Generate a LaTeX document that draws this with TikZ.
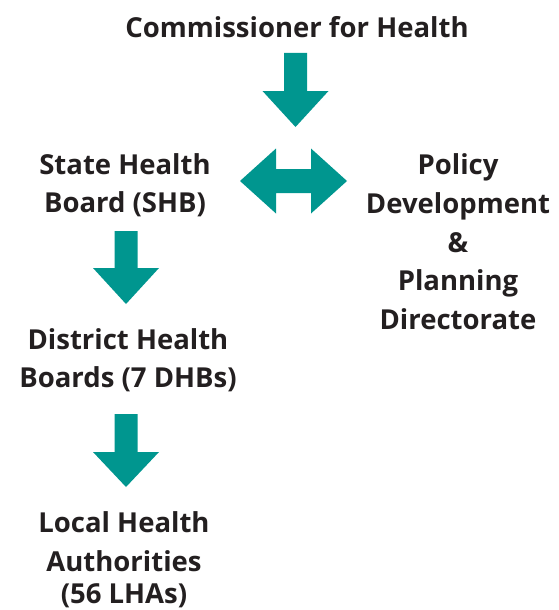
\documentclass[tikz,border=0pt]{standalone}
\usepackage{fontspec}
\setmainfont{Open Sans}
\definecolor{arrowteal}{HTML}{00968F}
\definecolor{ink}{HTML}{231F20}
\begin{document}
\begin{tikzpicture}[x=1pt,y=-1pt,
  orglabel/.style={font=\bfseries\fontsize{27.5}{38.8}\selectfont, text=ink,
    align=center, inner sep=0pt, anchor=north},
  blockarrow/.style={fill=arrowteal, draw=none}]
\useasboundingbox (0,0) rectangle (558,610);

% organisation units
\node[orglabel] (comm)   at (297,16.1)  {Commissioner for Health};
\node[orglabel] (shb)    at (125,153.1) {State Health\\Board (SHB)};
\node[orglabel] (policy) at (458,153.4) {Policy\\Development\\\&\\Planning\\Directorate};
\node[orglabel] (dhb)    at (128,328.1) {District Health\\Boards (7 DHBs)};
\node[orglabel] (lha)    at (124,511.1) {Local Health\\Authorities\\[-6.5pt](56 LHAs)};

% downward block arrows: centre x, shaft top, head base, tip
\newcommand\blockdown[4]{%
  \fill[blockarrow] (#1-11.5,#2) -- (#1+11.5,#2) -- (#1+11.5,#3) -- (#1+33,#3)
    -- (#1,#4) -- (#1-33,#3) -- (#1-11.5,#3) -- cycle;}
\blockdown{295.5}{53}{91}{127}
\blockdown{126}{231}{268}{304}
\blockdown{126}{414}{452}{487}

% two-way block arrow between the board and the directorate
\fill[blockarrow] (240,181) -- (276,148.5) -- (276,169) -- (311,169) -- (311,148.5)
  -- (347,181) -- (311,213.5) -- (311,193) -- (276,193) -- (276,213.5) -- cycle;
\end{tikzpicture}
\end{document}
